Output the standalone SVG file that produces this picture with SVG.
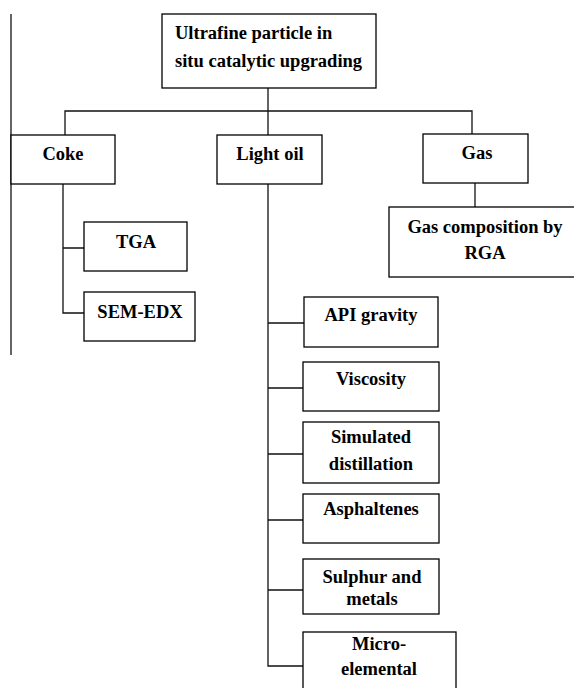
<svg xmlns="http://www.w3.org/2000/svg" width="574" height="688" viewBox="0 0 574 688">
<style>
.b{fill:#fff;stroke:#000;stroke-width:1.3}
.c{fill:none;stroke:#111;stroke-width:1.3}
text{font-family:'Liberation Serif','DejaVu Serif','Times New Roman',Times,serif;font-weight:700;font-size:18.5px;fill:#000;text-anchor:middle}
</style>
<rect width="574" height="688" fill="#fff"/>
<g id="connectors">
<path class="c" d="M11 14V355"/>
<path class="c" d="M268 88V135"/>
<path class="c" d="M65 135V111H472V134"/>
<path class="c" d="M475 183V207"/>
<path class="c" d="M63 184V313H84M63 248H84"/>
<path class="c" d="M268 184V666H303M268 323H304M268 388H303M268 454H303M268 520H303M268 590H303"/>
</g>
<g id="root"><rect class="b" x="162" y="14" width="214" height="74"/>
<text x="175" y="39" style="text-anchor:start">Ultrafine particle in</text>
<text x="175" y="67" style="text-anchor:start">situ catalytic upgrading</text></g>
<g id="coke"><rect class="b" x="11" y="135" width="104" height="49"/><text x="63" y="160">Coke</text></g>
<g id="lightoil"><rect class="b" x="217" y="135" width="105" height="49"/><text x="270" y="160">Light oil</text></g>
<g id="gas"><rect class="b" x="423" y="134" width="105" height="49"/><text x="477" y="159">Gas</text></g>
<g id="gascomp"><rect class="b" x="389" y="207" width="186" height="70"/><text x="485" y="233">Gas composition by</text><text x="485" y="259">RGA</text></g>
<g id="tga"><rect class="b" x="84" y="222" width="103" height="49"/><text x="136" y="248">TGA</text></g>
<g id="semedx"><rect class="b" x="84" y="292" width="111" height="49"/><text x="140" y="318">SEM-EDX</text></g>
<g id="api"><rect class="b" x="304" y="297" width="134" height="50"/><text x="371" y="321">API gravity</text></g>
<g id="viscosity"><rect class="b" x="303" y="362" width="136" height="49"/><text x="371" y="385">Viscosity</text></g>
<g id="simdist"><rect class="b" x="303" y="422" width="136" height="61"/><text x="371" y="443">Simulated</text><text x="371" y="470">distillation</text></g>
<g id="asphaltenes"><rect class="b" x="303" y="494" width="136" height="49"/><text x="371" y="515">Asphaltenes</text></g>
<g id="sulphur"><rect class="b" x="303" y="559" width="136" height="55"/><text x="372" y="583">Sulphur and</text><text x="372" y="605">metals</text></g>
<g id="micro"><rect class="b" x="303" y="632" width="153" height="70"/><text x="379" y="650">Micro-</text><text x="379" y="675">elemental</text></g>
</svg>
